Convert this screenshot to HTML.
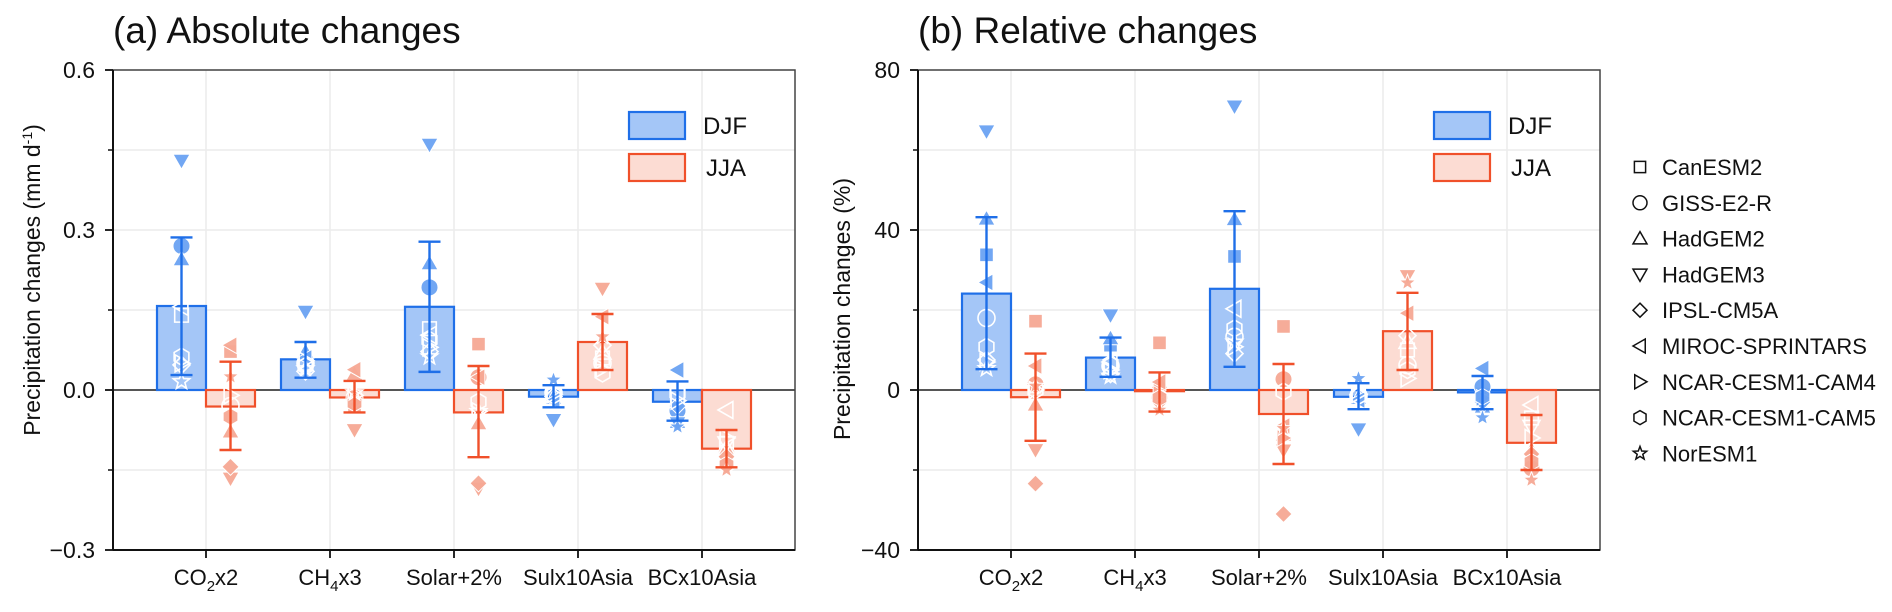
<!DOCTYPE html>
<html><head><meta charset="utf-8"><style>
html,body{margin:0;padding:0;background:#fff;}
svg{display:block;font-family:"Liberation Sans",Arial,sans-serif;}
</style></head><body>
<svg id="chart" width="1892" height="612" viewBox="0 0 1892 612" xmlns="http://www.w3.org/2000/svg"></svg>
<script>
const categories = ["CO2x2","CH4x3","Solar+2%","Sulx10Asia","BCx10Asia"];
const models = ["CanESM2","GISS-E2-R","HadGEM2","HadGEM3","IPSL-CM5A","MIROC-SPRINTARS","NCAR-CESM1-CAM4","NCAR-CESM1-CAM5","NorESM1"];
const shapes = ["square","circle","up","down","diamond","left","right","hex","star"];
// Panel a (mm/d)
const absDjfMean = [0.1575,0.0575,0.156,-0.0125,-0.022];
const absDjfHi = [0.286,0.09,0.278,0.009,0.016];
const absDjfLo = [0.028,0.023,0.034,-0.0325,-0.0575];
const absJjaMean = [-0.031,-0.014,-0.042,0.09,-0.11];
const absJjaHi = [0.053,0.017,0.045,0.1425,-0.075];
const absJjaLo = [-0.1125,-0.042,-0.126,0.0375,-0.145];
const absDjfModels = [
 [0.14,0.27,0.245,0.43,0.047,0.156,0.05,0.0625,0.016],
 [0.05,0.05,0.072,0.147,0.035,0.06,0.055,0.045,0.04],
 [0.115,0.1925,0.2375,0.46,0.072,0.103,0.08,0.094,0.0625],
 [-0.01,-0.005,-0.015,-0.056,-0.012,-0.02,-0.008,-0.01,0.019],
 [-0.01,-0.039,-0.06,-0.062,-0.03,0.0375,-0.02,-0.006,-0.069]];
const absJjaModels = [
 [0.072,-0.03,-0.078,-0.166,-0.144,0.084,-0.01,-0.05,0.025],
 [-0.03,-0.015,0.03,-0.075,-0.02,0.038,-0.01,-0.025,-0.005],
 [0.086,0.024,-0.0625,-0.185,-0.175,0.024,-0.04,-0.022,-0.04],
 [0.06,0.05,0.07,0.19,0.084,0.1375,0.04,0.031,0.1],
 [-0.1,-0.12,-0.11,-0.1,-0.125,-0.0375,-0.09,-0.14,-0.15]];
const absTicks = [0.6,0.3,0.0,-0.3];
const absTickLabels = ["0.6","0.3","0.0","\u22120.3"];
// Panel b (%)
const relDjfMean = [24.1,8.1,25.3,-1.7,-0.6];
const relDjfHi = [43.2,13.1,44.7,1.7,3.5];
const relDjfLo = [5.2,3.3,5.8,-4.8,-4.8];
const relJjaMean = [-1.8,-0.3,-6,14.7,-13.2];
const relJjaHi = [9.1,4.4,6.5,24.3,-6.25];
const relJjaLo = [-12.7,-5.4,-18.5,5,-20];
const relDjfModels = [
 [33.8,18,42.8,64.7,7.5,26.9,7,10.8,5.4],
 [11.2,6,12.9,18.7,4,7,5,6.5,3.5],
 [33.4,13.3,42.7,70.9,9.1,20.3,10.8,15.4,12],
 [-1,-1.5,-2,-9.8,-1.2,-2.5,-1,-1.5,2.9],
 [-1,0.8,-4.2,-4.2,-3,5.4,-2,-1.7,-6.9]];
const relJjaModels = [
 [17.2,1.4,-3.7,-15,-23.4,6,0,0,1],
 [11.8,-2,2,-4,-3,2,-1,-2,-5],
 [15.9,2.7,-11.2,-15.1,-31,-9,-12,-0.4,-9.6],
 [10,6.2,12,28.5,13.6,19.2,2.9,5,26.8],
 [-7,-19.6,-15,-9.2,-16,-3.75,-12,-18,-22.5]];
const relTicks = [80,40,0,-40];
const relTickLabels = ["80","40","0","\u221240"];

const NS="http://www.w3.org/2000/svg";
const svg=document.getElementById('chart');
function mk(tag,attrs,parent){const e=document.createElementNS(NS,tag);for(const k in attrs)e.setAttribute(k,attrs[k]);(parent||svg).appendChild(e);return e;}
const C={djfFill:"#a4c6f7",djfLine:"#1f6fe8",djfMark:"#6aa2f2",jjaFill:"#fcdcd3",jjaLine:"#f0502a",jjaMark:"#f6a893"};

function shapePath(s,cx,cy,r){
  const p=[];
  if(s==="square")return `M${cx-r*0.8},${cy-r*0.8}h${1.6*r}v${1.6*r}h${-1.6*r}Z`;
  if(s==="circle")return `M${cx-r},${cy}a${r},${r} 0 1,0 ${2*r},0a${r},${r} 0 1,0 ${-2*r},0Z`;
  if(s==="up")return `M${cx},${cy-r}L${cx+r},${cy+r*0.75}L${cx-r},${cy+r*0.75}Z`;
  if(s==="down")return `M${cx},${cy+r}L${cx+r},${cy-r*0.75}L${cx-r},${cy-r*0.75}Z`;
  if(s==="diamond")return `M${cx},${cy-r}L${cx+r},${cy}L${cx},${cy+r}L${cx-r},${cy}Z`;
  if(s==="left")return `M${cx-r},${cy}L${cx+r*0.75},${cy-r}L${cx+r*0.75},${cy+r}Z`;
  if(s==="right")return `M${cx+r},${cy}L${cx-r*0.75},${cy-r}L${cx-r*0.75},${cy+r}Z`;
  if(s==="hex"){for(let i=0;i<6;i++){const a=Math.PI/6+i*Math.PI/3;p.push((cx+r*Math.cos(a))+","+(cy+r*Math.sin(a)));}return "M"+p.join("L")+"Z";}
  if(s==="star"){for(let i=0;i<10;i++){const a=-Math.PI/2+i*Math.PI/5;const rr=i%2?r*0.42:r;p.push((cx+rr*Math.cos(a))+","+(cy+rr*Math.sin(a)));}return "M"+p.join("L")+"Z";}
}

function panel(o){
  const L=o.x0,W=682,T=70,B=550;
  const xs=i=>L+(i+0.75)*124;
  const ys=v=>390-(v/o.unit)*160;
  const g=mk('g',{});
  
  
  const minor=[];
  for(let k=0;k<o.ticks.length-1;k++)minor.push((o.ticks[k]+o.ticks[k+1])/2);
  o.ticks.concat(minor).forEach(v=>{const l=mk('line',{x1:L,x2:L+W,y1:ys(v),y2:ys(v),stroke:"#ececec","stroke-width":1.5},g);});
  categories.forEach((c,i)=>{const l=mk('line',{x1:xs(i),x2:xs(i),y1:T,y2:B,stroke:"#ececec","stroke-width":1.5},g);});
  const z=mk('line',{x1:L,x2:L+W,y1:ys(0),y2:ys(0),stroke:"#222","stroke-width":1.5},g);
  
  const bw=49;
  function series(mean,hi,lo,mods,fill,line,mark,off,season){
    categories.forEach((c,i)=>{
      const x=xs(i)+off*bw, y0=ys(0), y1=ys(mean[i]);
      const r=mk('rect',{x:x,y:Math.min(y0,y1),width:bw,height:Math.abs(y1-y0),fill:fill,stroke:line,"stroke-width":2.2},g);
      
      
      const cx=x+bw/2;
      mods[i].forEach((v,k)=>{
        const inside=(mean[i]>=0?(v>=0&&v<=mean[i]):(v<=0&&v>=mean[i]));
        const m=mk('path',{d:shapePath(shapes[k],cx,ys(v),8.5),fill:inside?fill:mark,stroke:"#fff","stroke-width":inside?1.6:1,"fill-opacity":inside?0:0.95},g);
        
        
      });
      const eg=mk('g',{stroke:line,"stroke-width":2.4,fill:"none"},g);
      
      
      mk('line',{x1:cx,x2:cx,y1:ys(hi[i]),y2:ys(lo[i])},eg);
      mk('line',{x1:cx-11,x2:cx+11,y1:ys(hi[i]),y2:ys(hi[i])},eg);
      mk('line',{x1:cx-11,x2:cx+11,y1:ys(lo[i]),y2:ys(lo[i])},eg);
    });
  }
  series(o.dm,o.dh,o.dl,o.dmod,C.djfFill,C.djfLine,C.djfMark,-1,'djf');
  series(o.jm,o.jh,o.jl,o.jmod,C.jjaFill,C.jjaLine,C.jjaMark,0,'jja');
  const fr=mk('rect',{x:L,y:T,width:W,height:B-T,fill:"none",stroke:"#444","stroke-width":1.5},g);
  
  mk('line',{x1:L,x2:L,y1:T,y2:B,stroke:"#111","stroke-width":2},g);
  mk('line',{x1:L,x2:L+W,y1:B,y2:B,stroke:"#111","stroke-width":2},g);
  o.ticks.forEach((v,k)=>{
    mk('line',{x1:L-8,x2:L,y1:ys(v),y2:ys(v),stroke:"#111","stroke-width":1.8},g);
    const t=mk('text',{x:L-18,y:ys(v)+8,"text-anchor":"end","font-size":23,fill:"#111"},g);
    t.textContent=o.labels[k];
    
  });
  minor.forEach(v=>mk('line',{x1:L-5,x2:L,y1:ys(v),y2:ys(v),stroke:"#111","stroke-width":1.5},g));
  const xl=[["CO","2","x2"],["CH","4","x3"],["Solar+2%"],["Sulx10Asia"],["BCx10Asia"]];
  categories.forEach((c,i)=>{
    mk('line',{x1:xs(i),x2:xs(i),y1:B,y2:B+8,stroke:"#111","stroke-width":1.8},g);
    const t=mk('text',{x:xs(i),y:585,"text-anchor":"middle","font-size":22,fill:"#111"},g);
    
    if(xl[i].length===3){
      const a=mk('tspan',{},t);a.textContent=xl[i][0];
      const b=mk('tspan',{dy:6,"font-size":15},t);b.textContent=xl[i][1];
      const d=mk('tspan',{dy:-6},t);d.textContent=xl[i][2];
    } else t.textContent=xl[i][0];
  });
  const tt=mk('text',{x:o.titleX,y:43,"font-size":37,fill:"#111"},g);
  tt.textContent=o.title;
  const yl=mk('text',{x:0,y:0,"text-anchor":"middle","font-size":23,fill:"#111",transform:`translate(${o.ylx},${o.yly}) rotate(-90)`},g);
  
  if(o.abs){const a=mk('tspan',{},yl);a.textContent="Precipitation changes (mm d";const b=mk('tspan',{dy:-8,"font-size":14},yl);b.textContent="-1";const d=mk('tspan',{dy:8},yl);d.textContent=")";}
  else yl.textContent="Precipitation changes (%)";
  const lg=mk('g',{},g);
  const lx=L+516;
  mk('rect',{x:lx,y:112,width:56,height:27,fill:C.djfFill,stroke:C.djfLine,"stroke-width":2.2},lg);
  mk('rect',{x:lx,y:154,width:56,height:27,fill:C.jjaFill,stroke:C.jjaLine,"stroke-width":2.2},lg);
  const t1=mk('text',{x:lx+74,y:134,"font-size":24,fill:"#111"},lg);t1.textContent="DJF";
  const t2=mk('text',{x:lx+77,y:176,"font-size":24,fill:"#111"},lg);t2.textContent="JJA";
}
panel({name:'panel-a-absolute',x0:113,unit:0.3,ticks:absTicks,labels:absTickLabels,title:"(a) Absolute changes",titleX:113,ylx:40,yly:280,abs:true,
 dm:absDjfMean,dh:absDjfHi,dl:absDjfLo,dmod:absDjfModels,jm:absJjaMean,jh:absJjaHi,jl:absJjaLo,jmod:absJjaModels});
panel({name:'panel-b-relative',x0:918,unit:40,ticks:relTicks,labels:relTickLabels,title:"(b) Relative changes",titleX:918,ylx:850,yly:309,abs:false,
 dm:relDjfMean,dh:relDjfHi,dl:relDjfLo,dmod:relDjfModels,jm:relJjaMean,jh:relJjaHi,jl:relJjaLo,jmod:relJjaModels});
const ml=mk('g',{});
models.forEach((m,k)=>{
  const y=167+k*35.8;
  const p=mk('path',{d:shapePath(shapes[k],1640,y,7),fill:"none",stroke:"#111","stroke-width":1.5},ml);
  
  const t=mk('text',{x:1662,y:y+8,"font-size":22,fill:"#111"},ml);t.textContent=m;
  
});
</script>
</body></html>
